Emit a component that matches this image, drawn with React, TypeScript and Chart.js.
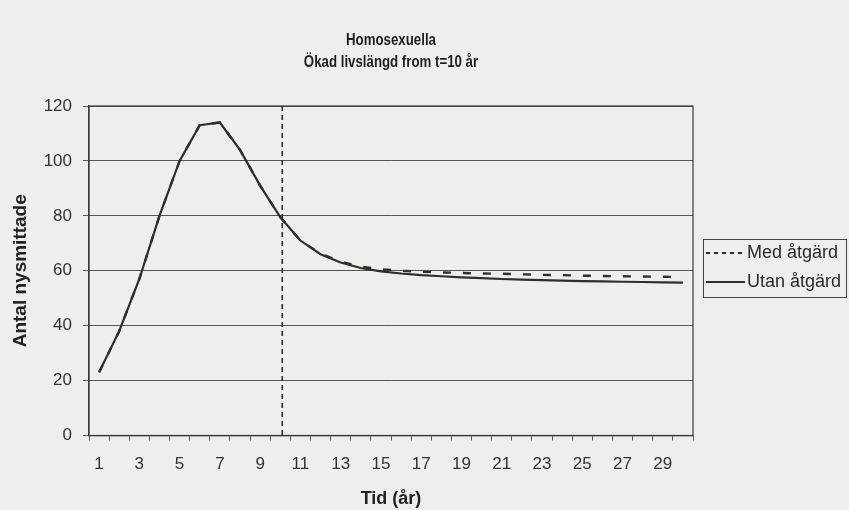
import { useEffect, useRef } from 'react';
import { Chart, registerables } from 'chart.js';

Chart.register(...registerables);

const titleLines = ['Homosexuella', 'Ökad livslängd from t=10 år'];
const xTitle = 'Tid (år)';
const yTitle = 'Antal nysmittade';
const years = ['1','2','3','4','5','6','7','8','9','10','11','12','13','14','15','16','17','18','19','20','21','22','23','24','25','26','27','28','29','30'];
const medLabel = 'Med åtgärd';
const utanLabel = 'Utan åtgärd';
const medValues = [23, 38, 57, 80, 100, 113, 114, 104, 91, 79.5, 71, 66.2, 63.3, 61.5, 60.5, 60.0, 59.6, 59.4, 59.2, 59.0, 58.9, 58.7, 58.5, 58.4, 58.2, 58.1, 58.0, 57.9, 57.8, 57.7];
const utanValues = [23, 38, 57, 80, 100, 113, 114, 104, 91, 79.5, 71, 66, 63, 61, 59.8, 59.0, 58.4, 58.0, 57.6, 57.3, 57.0, 56.8, 56.6, 56.4, 56.2, 56.1, 56.0, 55.9, 55.8, 55.7];
const interventionYear = '10';
const yMin = 0;
const yMax = 120;
const yStep = 20;

const BG = '#eeeeeb';
const INK = '#2e2e2e';
const GRID = '#555555';
const FONT = "'Liberation Sans', Arial, sans-serif";

const decor = {
  id: 'decor',
  beforeDraw(chart: any) {
    const { ctx, width, height } = chart;
    ctx.save();
    ctx.fillStyle = BG;
    ctx.fillRect(0, 0, width, height);
    ctx.restore();
  },
  afterDatasetsDraw(chart: any) {
    const { ctx, chartArea: a, scales } = chart;
    const x = scales.x;
    ctx.save();
    ctx.strokeStyle = '#3a3a3a';
    ctx.lineWidth = 1.2;
    ctx.strokeRect(a.left, a.top, a.right - a.left, a.bottom - a.top);
    const vx = x.getPixelForValue(years.indexOf(interventionYear)) + 2;
    ctx.strokeStyle = INK;
    ctx.lineWidth = 1.6;
    ctx.setLineDash([5, 4]);
    ctx.beginPath();
    ctx.moveTo(vx, a.top);
    ctx.lineTo(vx, a.bottom);
    ctx.stroke();
    ctx.restore();
  },
  afterDraw(chart: any) {
    const { ctx, chartArea: a } = chart;
    ctx.save();
    // title (condensed bold)
    ctx.fillStyle = '#1e1e1e';
    ctx.textAlign = 'center';
    ctx.textBaseline = 'middle';
    ctx.font = `bold 17px ${FONT}`;
    const cx = (a.left + a.right) / 2;
    const k = 0.78;
    ctx.save();
    ctx.scale(k, 1);
    ctx.fillText(titleLines[0], cx / k, 40);
    ctx.fillText(titleLines[1], cx / k, 62);
    ctx.restore();
    // legend
    const lx = 703, ly = 239, lw = 143, lh = 58;
    ctx.strokeStyle = '#444';
    ctx.lineWidth = 1;
    ctx.strokeRect(lx + 0.5, ly + 0.5, lw, lh);
    ctx.strokeStyle = INK;
    ctx.lineWidth = 2;
    ctx.setLineDash([4, 4]);
    ctx.beginPath();
    ctx.moveTo(706, 253);
    ctx.lineTo(743, 253);
    ctx.stroke();
    ctx.setLineDash([]);
    ctx.beginPath();
    ctx.moveTo(706, 282);
    ctx.lineTo(745, 282);
    ctx.stroke();
    ctx.fillStyle = '#2a2a2a';
    ctx.textAlign = 'left';
    ctx.font = `18px ${FONT}`;
    ctx.fillText(medLabel, 747, 253);
    ctx.fillText(utanLabel, 747, 282);
    ctx.restore();
  },
};

export default function App() {
  const ref = useRef<HTMLCanvasElement>(null);
  useEffect(() => {
    const chart = new Chart(ref.current as HTMLCanvasElement, {
      type: 'line',
      data: {
        labels: years,
        datasets: [
          {
            label: utanLabel,
            data: utanValues,
            borderColor: INK,
            borderWidth: 2.2,
            pointRadius: 0,
            tension: 0,
            fill: false,
          },
          {
            label: medLabel,
            data: medValues,
            borderColor: INK,
            borderWidth: 2.4,
            borderDash: [8, 12],
            pointRadius: 0,
            tension: 0,
            fill: false,
          },
        ],
      },
      options: {
        responsive: false,
        animation: false,
        devicePixelRatio: 1,
        layout: { padding: { left: 0, top: 106, right: 156, bottom: 0 } },
        plugins: {
          legend: { display: false },
          title: { display: false },
          tooltip: { enabled: false },
        },
        scales: {
          x: {
            type: 'category',
            offset: true,
            afterFit: (s: any) => { s.height = 74.5; },
            grid: {
              display: true,
              offset: true,
              drawOnChartArea: false,
              drawTicks: true,
              tickLength: 5,
              color: GRID,
            },
            border: { display: true, color: '#333', width: 1.2 },
            ticks: {
              autoSkip: false,
              maxRotation: 0,
              padding: 14,
              color: '#333',
              font: { family: FONT, size: 17 },
              callback: (_v: any, i: number) => (i % 2 === 0 ? years[i] : ''),
            },
            title: {
              display: true,
              text: xTitle,
              color: '#222',
              font: { family: FONT, size: 18, weight: 'bold' },
              padding: { top: 0, bottom: 0 },
            },
          },
          y: {
            min: yMin,
            max: yMax,
            afterFit: (s: any) => { s.width = 89; },
            grid: {
              color: GRID,
              lineWidth: 1,
              drawTicks: true,
              tickLength: 6,
            },
            border: { display: true, color: '#333', width: 1.2 },
            ticks: {
              stepSize: yStep,
              padding: 11,
              color: '#333',
              font: { family: FONT, size: 17 },
            },
            title: {
              display: true,
              text: yTitle,
              color: '#222',
              font: { family: FONT, size: 19, weight: 'bold' },
              padding: { top: 9, bottom: 0 },
            },
          },
        },
      },
      plugins: [decor],
    });
    return () => chart.destroy();
  }, []);
  return (
    <div style={{ position: 'absolute', left: 0, top: 0, width: 849, height: 510, background: BG }}>
      <canvas ref={ref} width={849} height={510} style={{ display: 'block' }} />
    </div>
  );
}
